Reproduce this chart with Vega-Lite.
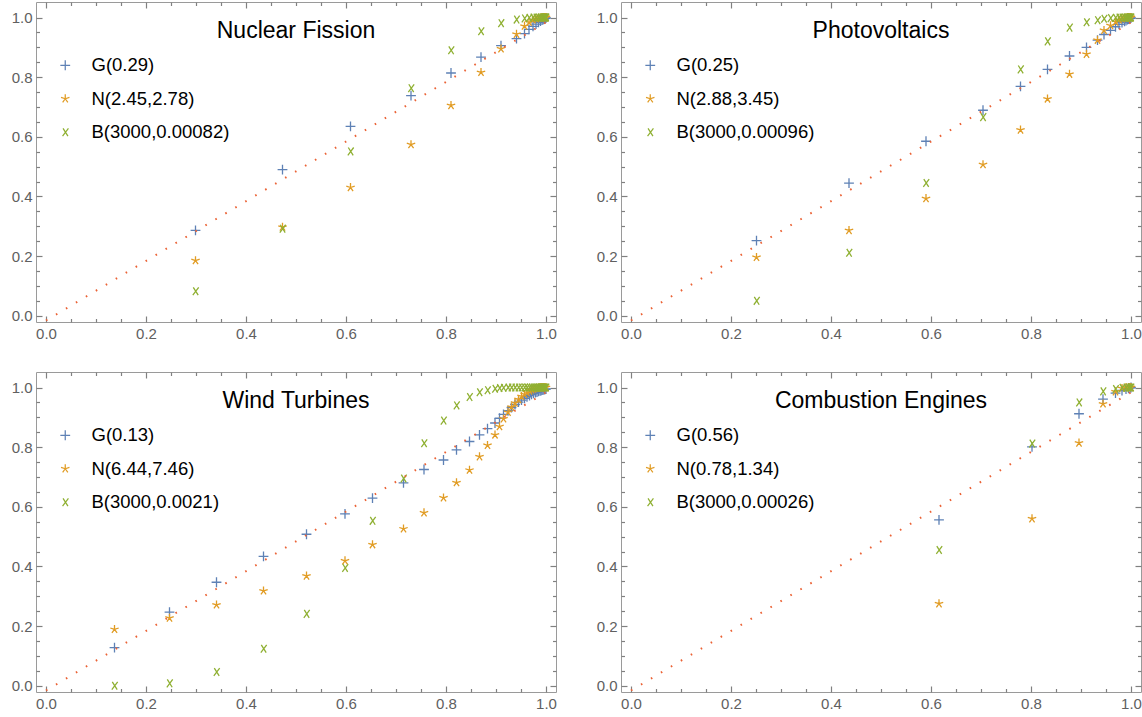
{
"$schema":"https://vega.github.io/schema/vega-lite/v6.json",
"background":"white",
"padding":{"left":10,"top":0,"right":0,"bottom":0},
"config":{
 "view":{"stroke":"#9a9a9a","strokeWidth":1},
 "font":"Liberation Sans",
 "axis":{"grid":false,"domain":false,"labelFont":"Liberation Sans","labelFontSize":15,"labelColor":"#606060","tickColor":"#808080","tickWidth":1.2,"labelFlush":false,"title":null},
 "legend":{"labelFont":"Liberation Sans","labelFontSize":18.5,"labelColor":"#000000","symbolSize":96,"symbolStrokeWidth":1.25,"labelOffset":17,"rowPadding":14.5,"padding":0},
 "title":{"font":"Liberation Sans","fontSize":23,"fontWeight":"normal","color":"#000000","anchor":"middle","frame":"group","offset":-42,"baseline":"alphabetic"}
},
"datasets":{
 "diag":[{"x":0,"y":-0.016},{"x":1,"y":0.984}],
 "nf":[
  {"d":"G(0.29)","x":0.299,"y":0.286},{"d":"G(0.29)","x":0.473,"y":0.490},{"d":"G(0.29)","x":0.609,"y":0.635},{"d":"G(0.29)","x":0.730,"y":0.738},{"d":"G(0.29)","x":0.810,"y":0.814},{"d":"G(0.29)","x":0.870,"y":0.867},{"d":"G(0.29)","x":0.910,"y":0.906},{"d":"G(0.29)","x":0.941,"y":0.929},{"d":"G(0.29)","x":0.957,"y":0.946},{"d":"G(0.29)","x":0.966,"y":0.960},{"d":"G(0.29)","x":0.974,"y":0.970},{"d":"G(0.29)","x":0.980,"y":0.978},{"d":"G(0.29)","x":0.985,"y":0.984},{"d":"G(0.29)","x":0.989,"y":0.988},{"d":"G(0.29)","x":0.992,"y":0.991},{"d":"G(0.29)","x":0.994,"y":0.993},{"d":"G(0.29)","x":0.996,"y":0.995},{"d":"G(0.29)","x":0.997,"y":0.996},{"d":"G(0.29)","x":0.998,"y":0.997},{"d":"G(0.29)","x":0.999,"y":0.998},{"d":"G(0.29)","x":1.0,"y":0.999},
  {"d":"N(2.45,2.78)","x":0.299,"y":0.185},{"d":"N(2.45,2.78)","x":0.473,"y":0.297},{"d":"N(2.45,2.78)","x":0.609,"y":0.430},{"d":"N(2.45,2.78)","x":0.730,"y":0.574},{"d":"N(2.45,2.78)","x":0.810,"y":0.705},{"d":"N(2.45,2.78)","x":0.870,"y":0.816},{"d":"N(2.45,2.78)","x":0.910,"y":0.895},{"d":"N(2.45,2.78)","x":0.941,"y":0.944},{"d":"N(2.45,2.78)","x":0.957,"y":0.971},{"d":"N(2.45,2.78)","x":0.966,"y":0.984},{"d":"N(2.45,2.78)","x":0.974,"y":0.992},{"d":"N(2.45,2.78)","x":0.980,"y":0.996},{"d":"N(2.45,2.78)","x":0.985,"y":0.998},{"d":"N(2.45,2.78)","x":0.989,"y":0.999},{"d":"N(2.45,2.78)","x":0.992,"y":1},{"d":"N(2.45,2.78)","x":0.994,"y":1},{"d":"N(2.45,2.78)","x":0.996,"y":1},{"d":"N(2.45,2.78)","x":0.997,"y":1},{"d":"N(2.45,2.78)","x":0.998,"y":1},{"d":"N(2.45,2.78)","x":0.999,"y":1},{"d":"N(2.45,2.78)","x":1.0,"y":1},
  {"d":"B(3000,0.00082)","x":0.299,"y":0.082},{"d":"B(3000,0.00082)","x":0.473,"y":0.292},{"d":"B(3000,0.00082)","x":0.609,"y":0.551},{"d":"B(3000,0.00082)","x":0.730,"y":0.763},{"d":"B(3000,0.00082)","x":0.810,"y":0.890},{"d":"B(3000,0.00082)","x":0.870,"y":0.954},{"d":"B(3000,0.00082)","x":0.910,"y":0.981},{"d":"B(3000,0.00082)","x":0.941,"y":0.993},{"d":"B(3000,0.00082)","x":0.957,"y":0.997},{"d":"B(3000,0.00082)","x":0.966,"y":0.999},{"d":"B(3000,0.00082)","x":0.974,"y":1},{"d":"B(3000,0.00082)","x":0.980,"y":1},{"d":"B(3000,0.00082)","x":0.985,"y":1},{"d":"B(3000,0.00082)","x":0.989,"y":1},{"d":"B(3000,0.00082)","x":0.992,"y":1},{"d":"B(3000,0.00082)","x":0.994,"y":1},{"d":"B(3000,0.00082)","x":0.996,"y":1},{"d":"B(3000,0.00082)","x":0.997,"y":1},{"d":"B(3000,0.00082)","x":0.998,"y":1},{"d":"B(3000,0.00082)","x":0.999,"y":1},{"d":"B(3000,0.00082)","x":1.0,"y":1}
 ],
 "pv":[
  {"d":"G(0.25)","x":0.251,"y":0.252},{"d":"G(0.25)","x":0.436,"y":0.445},{"d":"G(0.25)","x":0.590,"y":0.585},{"d":"G(0.25)","x":0.704,"y":0.689},{"d":"G(0.25)","x":0.779,"y":0.769},{"d":"G(0.25)","x":0.833,"y":0.826},{"d":"G(0.25)","x":0.877,"y":0.871},{"d":"G(0.25)","x":0.911,"y":0.900},{"d":"G(0.25)","x":0.933,"y":0.924},{"d":"G(0.25)","x":0.946,"y":0.943},{"d":"G(0.25)","x":0.959,"y":0.957},{"d":"G(0.25)","x":0.969,"y":0.969},{"d":"G(0.25)","x":0.976,"y":0.977},{"d":"G(0.25)","x":0.982,"y":0.983},{"d":"G(0.25)","x":0.987,"y":0.987},{"d":"G(0.25)","x":0.990,"y":0.990},{"d":"G(0.25)","x":0.993,"y":0.993},{"d":"G(0.25)","x":0.995,"y":0.995},{"d":"G(0.25)","x":0.997,"y":0.996},{"d":"G(0.25)","x":0.998,"y":0.997},{"d":"G(0.25)","x":0.999,"y":0.998},{"d":"G(0.25)","x":1.0,"y":0.999},
  {"d":"N(2.88,3.45)","x":0.251,"y":0.196},{"d":"N(2.88,3.45)","x":0.436,"y":0.286},{"d":"N(2.88,3.45)","x":0.590,"y":0.393},{"d":"N(2.88,3.45)","x":0.704,"y":0.507},{"d":"N(2.88,3.45)","x":0.779,"y":0.623},{"d":"N(2.88,3.45)","x":0.833,"y":0.727},{"d":"N(2.88,3.45)","x":0.877,"y":0.810},{"d":"N(2.88,3.45)","x":0.911,"y":0.877},{"d":"N(2.88,3.45)","x":0.933,"y":0.924},{"d":"N(2.88,3.45)","x":0.946,"y":0.957},{"d":"N(2.88,3.45)","x":0.959,"y":0.973},{"d":"N(2.88,3.45)","x":0.969,"y":0.985},{"d":"N(2.88,3.45)","x":0.976,"y":0.992},{"d":"N(2.88,3.45)","x":0.982,"y":0.996},{"d":"N(2.88,3.45)","x":0.987,"y":0.998},{"d":"N(2.88,3.45)","x":0.990,"y":0.999},{"d":"N(2.88,3.45)","x":0.993,"y":1},{"d":"N(2.88,3.45)","x":0.995,"y":1},{"d":"N(2.88,3.45)","x":0.997,"y":1},{"d":"N(2.88,3.45)","x":0.998,"y":1},{"d":"N(2.88,3.45)","x":0.999,"y":1},{"d":"N(2.88,3.45)","x":1.0,"y":1},
  {"d":"B(3000,0.00096)","x":0.251,"y":0.050},{"d":"B(3000,0.00096)","x":0.436,"y":0.211},{"d":"B(3000,0.00096)","x":0.590,"y":0.445},{"d":"B(3000,0.00096)","x":0.704,"y":0.666},{"d":"B(3000,0.00096)","x":0.779,"y":0.826},{"d":"B(3000,0.00096)","x":0.833,"y":0.920},{"d":"B(3000,0.00096)","x":0.877,"y":0.966},{"d":"B(3000,0.00096)","x":0.911,"y":0.984},{"d":"B(3000,0.00096)","x":0.933,"y":0.991},{"d":"B(3000,0.00096)","x":0.946,"y":0.996},{"d":"B(3000,0.00096)","x":0.959,"y":0.998},{"d":"B(3000,0.00096)","x":0.969,"y":0.999},{"d":"B(3000,0.00096)","x":0.976,"y":1},{"d":"B(3000,0.00096)","x":0.982,"y":1},{"d":"B(3000,0.00096)","x":0.987,"y":1},{"d":"B(3000,0.00096)","x":0.990,"y":1},{"d":"B(3000,0.00096)","x":0.993,"y":1},{"d":"B(3000,0.00096)","x":0.995,"y":1},{"d":"B(3000,0.00096)","x":0.997,"y":1},{"d":"B(3000,0.00096)","x":0.998,"y":1},{"d":"B(3000,0.00096)","x":0.999,"y":1},{"d":"B(3000,0.00096)","x":1.0,"y":1}
 ],
 "wt":[
  {"d":"G(0.13)","x":0.137,"y":0.128},{"d":"G(0.13)","x":0.247,"y":0.247},{"d":"G(0.13)","x":0.341,"y":0.347},{"d":"G(0.13)","x":0.435,"y":0.434},{"d":"G(0.13)","x":0.521,"y":0.508},{"d":"G(0.13)","x":0.598,"y":0.576},{"d":"G(0.13)","x":0.653,"y":0.629},{"d":"G(0.13)","x":0.715,"y":0.680},{"d":"G(0.13)","x":0.756,"y":0.725},{"d":"G(0.13)","x":0.795,"y":0.757},{"d":"G(0.13)","x":0.821,"y":0.791},{"d":"G(0.13)","x":0.847,"y":0.819},{"d":"G(0.13)","x":0.867,"y":0.841},{"d":"G(0.13)","x":0.883,"y":0.862},{"d":"G(0.13)","x":0.898,"y":0.881},{"d":"G(0.13)","x":0.907,"y":0.897},{"d":"G(0.13)","x":0.915,"y":0.910},{"d":"G(0.13)","x":0.924,"y":0.922},{"d":"G(0.13)","x":0.931,"y":0.933},{"d":"G(0.13)","x":0.938,"y":0.943},{"d":"G(0.13)","x":0.945,"y":0.951},{"d":"G(0.13)","x":0.951,"y":0.958},{"d":"G(0.13)","x":0.957,"y":0.964},{"d":"G(0.13)","x":0.962,"y":0.969},{"d":"G(0.13)","x":0.967,"y":0.973},{"d":"G(0.13)","x":0.971,"y":0.977},{"d":"G(0.13)","x":0.975,"y":0.980},{"d":"G(0.13)","x":0.979,"y":0.983},{"d":"G(0.13)","x":0.982,"y":0.985},{"d":"G(0.13)","x":0.985,"y":0.987},{"d":"G(0.13)","x":0.988,"y":0.989},{"d":"G(0.13)","x":0.990,"y":0.990},{"d":"G(0.13)","x":0.992,"y":0.991},{"d":"G(0.13)","x":0.994,"y":0.992},{"d":"G(0.13)","x":0.996,"y":0.993},{"d":"G(0.13)","x":0.998,"y":0.994},{"d":"G(0.13)","x":1.0,"y":0.995},
  {"d":"N(6.44,7.46)","x":0.137,"y":0.189},{"d":"N(6.44,7.46)","x":0.247,"y":0.227},{"d":"N(6.44,7.46)","x":0.341,"y":0.271},{"d":"N(6.44,7.46)","x":0.435,"y":0.318},{"d":"N(6.44,7.46)","x":0.521,"y":0.368},{"d":"N(6.44,7.46)","x":0.598,"y":0.419},{"d":"N(6.44,7.46)","x":0.653,"y":0.473},{"d":"N(6.44,7.46)","x":0.715,"y":0.526},{"d":"N(6.44,7.46)","x":0.756,"y":0.580},{"d":"N(6.44,7.46)","x":0.795,"y":0.630},{"d":"N(6.44,7.46)","x":0.821,"y":0.681},{"d":"N(6.44,7.46)","x":0.847,"y":0.723},{"d":"N(6.44,7.46)","x":0.867,"y":0.768},{"d":"N(6.44,7.46)","x":0.883,"y":0.806},{"d":"N(6.44,7.46)","x":0.898,"y":0.841},{"d":"N(6.44,7.46)","x":0.907,"y":0.869},{"d":"N(6.44,7.46)","x":0.915,"y":0.895},{"d":"N(6.44,7.46)","x":0.924,"y":0.917},{"d":"N(6.44,7.46)","x":0.931,"y":0.934},{"d":"N(6.44,7.46)","x":0.938,"y":0.948},{"d":"N(6.44,7.46)","x":0.945,"y":0.960},{"d":"N(6.44,7.46)","x":0.951,"y":0.970},{"d":"N(6.44,7.46)","x":0.957,"y":0.977},{"d":"N(6.44,7.46)","x":0.962,"y":0.983},{"d":"N(6.44,7.46)","x":0.967,"y":0.988},{"d":"N(6.44,7.46)","x":0.971,"y":0.992},{"d":"N(6.44,7.46)","x":0.975,"y":0.995},{"d":"N(6.44,7.46)","x":0.979,"y":0.997},{"d":"N(6.44,7.46)","x":0.982,"y":0.998},{"d":"N(6.44,7.46)","x":0.985,"y":0.999},{"d":"N(6.44,7.46)","x":0.988,"y":1},{"d":"N(6.44,7.46)","x":0.990,"y":1},{"d":"N(6.44,7.46)","x":0.992,"y":1},{"d":"N(6.44,7.46)","x":0.994,"y":1},{"d":"N(6.44,7.46)","x":0.996,"y":1},{"d":"N(6.44,7.46)","x":0.998,"y":1},{"d":"N(6.44,7.46)","x":1.0,"y":1},
  {"d":"B(3000,0.0021)","x":0.137,"y":0.0},{"d":"B(3000,0.0021)","x":0.247,"y":0.008},{"d":"B(3000,0.0021)","x":0.341,"y":0.046},{"d":"B(3000,0.0021)","x":0.435,"y":0.124},{"d":"B(3000,0.0021)","x":0.521,"y":0.241},{"d":"B(3000,0.0021)","x":0.598,"y":0.395},{"d":"B(3000,0.0021)","x":0.653,"y":0.553},{"d":"B(3000,0.0021)","x":0.715,"y":0.695},{"d":"B(3000,0.0021)","x":0.756,"y":0.813},{"d":"B(3000,0.0021)","x":0.795,"y":0.889},{"d":"B(3000,0.0021)","x":0.821,"y":0.940},{"d":"B(3000,0.0021)","x":0.847,"y":0.968},{"d":"B(3000,0.0021)","x":0.867,"y":0.984},{"d":"B(3000,0.0021)","x":0.883,"y":0.991},{"d":"B(3000,0.0021)","x":0.898,"y":0.996},{"d":"B(3000,0.0021)","x":0.907,"y":0.998},{"d":"B(3000,0.0021)","x":0.915,"y":0.999},{"d":"B(3000,0.0021)","x":0.924,"y":1},{"d":"B(3000,0.0021)","x":0.931,"y":1},{"d":"B(3000,0.0021)","x":0.938,"y":1},{"d":"B(3000,0.0021)","x":0.945,"y":1},{"d":"B(3000,0.0021)","x":0.951,"y":1},{"d":"B(3000,0.0021)","x":0.957,"y":1},{"d":"B(3000,0.0021)","x":0.962,"y":1},{"d":"B(3000,0.0021)","x":0.967,"y":1},{"d":"B(3000,0.0021)","x":0.971,"y":1},{"d":"B(3000,0.0021)","x":0.975,"y":1},{"d":"B(3000,0.0021)","x":0.979,"y":1},{"d":"B(3000,0.0021)","x":0.982,"y":1},{"d":"B(3000,0.0021)","x":0.985,"y":1},{"d":"B(3000,0.0021)","x":0.988,"y":1},{"d":"B(3000,0.0021)","x":0.990,"y":1},{"d":"B(3000,0.0021)","x":0.992,"y":1},{"d":"B(3000,0.0021)","x":0.994,"y":1},{"d":"B(3000,0.0021)","x":0.996,"y":1},{"d":"B(3000,0.0021)","x":0.998,"y":1},{"d":"B(3000,0.0021)","x":1.0,"y":1}
 ],
 "ce":[
  {"d":"G(0.56)","x":0.616,"y":0.556},{"d":"G(0.56)","x":0.802,"y":0.801},{"d":"G(0.56)","x":0.896,"y":0.912},{"d":"G(0.56)","x":0.944,"y":0.961},{"d":"G(0.56)","x":0.969,"y":0.981},{"d":"G(0.56)","x":0.982,"y":0.990},{"d":"G(0.56)","x":0.990,"y":0.995},{"d":"G(0.56)","x":0.995,"y":0.997},{"d":"G(0.56)","x":0.998,"y":0.999},{"d":"G(0.56)","x":1.0,"y":1.0},
  {"d":"N(0.78,1.34)","x":0.616,"y":0.275},{"d":"N(0.78,1.34)","x":0.802,"y":0.560},{"d":"N(0.78,1.34)","x":0.896,"y":0.814},{"d":"N(0.78,1.34)","x":0.944,"y":0.945},{"d":"N(0.78,1.34)","x":0.969,"y":0.986},{"d":"N(0.78,1.34)","x":0.982,"y":0.997},{"d":"N(0.78,1.34)","x":0.990,"y":1},{"d":"N(0.78,1.34)","x":0.995,"y":1},{"d":"N(0.78,1.34)","x":0.998,"y":1},{"d":"N(0.78,1.34)","x":1.0,"y":1},
  {"d":"B(3000,0.00026)","x":0.616,"y":0.455},{"d":"B(3000,0.00026)","x":0.802,"y":0.812},{"d":"B(3000,0.00026)","x":0.896,"y":0.950},{"d":"B(3000,0.00026)","x":0.944,"y":0.987},{"d":"B(3000,0.00026)","x":0.969,"y":0.995},{"d":"B(3000,0.00026)","x":0.982,"y":0.999},{"d":"B(3000,0.00026)","x":0.990,"y":1},{"d":"B(3000,0.00026)","x":0.995,"y":1},{"d":"B(3000,0.00026)","x":0.998,"y":1},{"d":"B(3000,0.00026)","x":1.0,"y":1}
 ]
},
"columns":2,
"spacing":{"row":50,"column":65},
"bounds":"flush",
"resolve":{"scale":{"color":"independent","shape":"independent"}},
"concat":[
 {"width":520,"height":320,"title":"Nuclear Fission",
  "layer":[
   {"data":{"name":"nf"},"mark":{"type":"point","filled":false,"strokeWidth":1.3,"size":96,"opacity":1},
    "encoding":{
     "x":{"field":"x","type":"quantitative","scale":{"domain":[-0.02,1.02],"nice":false,"zero":false},"axis":{"orient":"top","labels":false,"tickSize":-6,"values":[0,0.2,0.4,0.6,0.8,1]}},
     "y":{"field":"y","type":"quantitative","scale":{"domain":[-0.021,1.052],"nice":false,"zero":false},"axis":{"orient":"right","labels":false,"tickSize":-6,"values":[0,0.2,0.4,0.6,0.8,1]}},
     "color":{"field":"d","type":"nominal","scale":{"domain":["G(0.29)","N(2.45,2.78)","B(3000,0.00082)"],"range":["#5e81b5","#e19c24","#8fb032"]},"legend":{"title":null,"orient":"none","legendX":20,"legendY":54}},
     "shape":{"field":"d","type":"nominal","scale":{"domain":["G(0.29)","N(2.45,2.78)","B(3000,0.00082)"],"range":["M-1,0L1,0M0,-1L0,1","M0,0L0,-0.9M0,0L0.86,-0.28M0,0L0.53,0.73M0,0L-0.53,0.73M0,0L-0.86,-0.28","M-0.45,-0.8L0.55,0.8M0.65,-0.8L-0.55,0.8"]},"legend":{"title":null,"orient":"none","legendX":20,"legendY":54}}
    }},
   {"data":{"name":"diag"},"mark":{"type":"line","color":"#eb6235","strokeDash":[1.6,10],"strokeWidth":2},
    "encoding":{
     "x":{"field":"x","type":"quantitative","scale":{"domain":[-0.02,1.02],"nice":false,"zero":false},"axis":{"orient":"bottom","ticks":false,"labelPadding":4,"format":".1f","values":[0,0.2,0.4,0.6,0.8,1]}},
     "y":{"field":"y","type":"quantitative","scale":{"domain":[-0.021,1.052],"nice":false,"zero":false},"axis":{"orient":"left","ticks":false,"labelPadding":4,"format":".1f","values":[0,0.2,0.4,0.6,0.8,1]}}
    }},
   {"data":{"name":"diag"},"mark":{"type":"line","opacity":0},
    "encoding":{
     "x":{"field":"x","type":"quantitative","scale":{"domain":[-0.02,1.02],"nice":false,"zero":false},"axis":{"orient":"bottom","labels":false,"tickSize":-6,"values":[0,0.2,0.4,0.6,0.8,1]}},
     "y":{"field":"y","type":"quantitative","scale":{"domain":[-0.021,1.052],"nice":false,"zero":false},"axis":{"orient":"left","labels":false,"tickSize":-6,"values":[0,0.2,0.4,0.6,0.8,1]}}
    }},
   {"data":{"name":"diag"},"mark":{"type":"line","opacity":0},
    "encoding":{
     "x":{"field":"x","type":"quantitative","scale":{"domain":[-0.02,1.02],"nice":false,"zero":false},"axis":{"orient":"bottom","labels":false,"tickSize":-3.5,"values":[0.05,0.1,0.15,0.25,0.3,0.35,0.45,0.5,0.55,0.65,0.7,0.75,0.85,0.9,0.95]}},
     "y":{"field":"y","type":"quantitative","scale":{"domain":[-0.021,1.052],"nice":false,"zero":false},"axis":{"orient":"left","labels":false,"tickSize":-3.5,"values":[0.05,0.1,0.15,0.25,0.3,0.35,0.45,0.5,0.55,0.65,0.7,0.75,0.85,0.9,0.95]}}
    }},
   {"data":{"name":"diag"},"mark":{"type":"line","opacity":0},
    "encoding":{
     "x":{"field":"x","type":"quantitative","scale":{"domain":[-0.02,1.02],"nice":false,"zero":false},"axis":{"orient":"top","labels":false,"tickSize":-3.5,"values":[0.05,0.1,0.15,0.25,0.3,0.35,0.45,0.5,0.55,0.65,0.7,0.75,0.85,0.9,0.95]}},
     "y":{"field":"y","type":"quantitative","scale":{"domain":[-0.021,1.052],"nice":false,"zero":false},"axis":{"orient":"right","labels":false,"tickSize":-3.5,"values":[0.05,0.1,0.15,0.25,0.3,0.35,0.45,0.5,0.55,0.65,0.7,0.75,0.85,0.9,0.95]}}
    }}
  ],
  "resolve":{"axis":{"x":"independent","y":"independent"}}},
 {"width":520,"height":320,"title":"Photovoltaics",
  "layer":[
   {"data":{"name":"pv"},"mark":{"type":"point","filled":false,"strokeWidth":1.3,"size":96,"opacity":1},
    "encoding":{
     "x":{"field":"x","type":"quantitative","scale":{"domain":[-0.02,1.02],"nice":false,"zero":false},"axis":{"orient":"top","labels":false,"tickSize":-6,"values":[0,0.2,0.4,0.6,0.8,1]}},
     "y":{"field":"y","type":"quantitative","scale":{"domain":[-0.021,1.052],"nice":false,"zero":false},"axis":{"orient":"right","labels":false,"tickSize":-6,"values":[0,0.2,0.4,0.6,0.8,1]}},
     "color":{"field":"d","type":"nominal","scale":{"domain":["G(0.25)","N(2.88,3.45)","B(3000,0.00096)"],"range":["#5e81b5","#e19c24","#8fb032"]},"legend":{"title":null,"orient":"none","legendX":20,"legendY":54}},
     "shape":{"field":"d","type":"nominal","scale":{"domain":["G(0.25)","N(2.88,3.45)","B(3000,0.00096)"],"range":["M-1,0L1,0M0,-1L0,1","M0,0L0,-0.9M0,0L0.86,-0.28M0,0L0.53,0.73M0,0L-0.53,0.73M0,0L-0.86,-0.28","M-0.45,-0.8L0.55,0.8M0.65,-0.8L-0.55,0.8"]},"legend":{"title":null,"orient":"none","legendX":20,"legendY":54}}
    }},
   {"data":{"name":"diag"},"mark":{"type":"line","color":"#eb6235","strokeDash":[1.6,10],"strokeWidth":2},
    "encoding":{
     "x":{"field":"x","type":"quantitative","scale":{"domain":[-0.02,1.02],"nice":false,"zero":false},"axis":{"orient":"bottom","ticks":false,"labelPadding":4,"format":".1f","values":[0,0.2,0.4,0.6,0.8,1]}},
     "y":{"field":"y","type":"quantitative","scale":{"domain":[-0.021,1.052],"nice":false,"zero":false},"axis":{"orient":"left","ticks":false,"labelPadding":4,"format":".1f","values":[0,0.2,0.4,0.6,0.8,1]}}
    }},
   {"data":{"name":"diag"},"mark":{"type":"line","opacity":0},
    "encoding":{
     "x":{"field":"x","type":"quantitative","scale":{"domain":[-0.02,1.02],"nice":false,"zero":false},"axis":{"orient":"bottom","labels":false,"tickSize":-6,"values":[0,0.2,0.4,0.6,0.8,1]}},
     "y":{"field":"y","type":"quantitative","scale":{"domain":[-0.021,1.052],"nice":false,"zero":false},"axis":{"orient":"left","labels":false,"tickSize":-6,"values":[0,0.2,0.4,0.6,0.8,1]}}
    }},
   {"data":{"name":"diag"},"mark":{"type":"line","opacity":0},
    "encoding":{
     "x":{"field":"x","type":"quantitative","scale":{"domain":[-0.02,1.02],"nice":false,"zero":false},"axis":{"orient":"bottom","labels":false,"tickSize":-3.5,"values":[0.05,0.1,0.15,0.25,0.3,0.35,0.45,0.5,0.55,0.65,0.7,0.75,0.85,0.9,0.95]}},
     "y":{"field":"y","type":"quantitative","scale":{"domain":[-0.021,1.052],"nice":false,"zero":false},"axis":{"orient":"left","labels":false,"tickSize":-3.5,"values":[0.05,0.1,0.15,0.25,0.3,0.35,0.45,0.5,0.55,0.65,0.7,0.75,0.85,0.9,0.95]}}
    }},
   {"data":{"name":"diag"},"mark":{"type":"line","opacity":0},
    "encoding":{
     "x":{"field":"x","type":"quantitative","scale":{"domain":[-0.02,1.02],"nice":false,"zero":false},"axis":{"orient":"top","labels":false,"tickSize":-3.5,"values":[0.05,0.1,0.15,0.25,0.3,0.35,0.45,0.5,0.55,0.65,0.7,0.75,0.85,0.9,0.95]}},
     "y":{"field":"y","type":"quantitative","scale":{"domain":[-0.021,1.052],"nice":false,"zero":false},"axis":{"orient":"right","labels":false,"tickSize":-3.5,"values":[0.05,0.1,0.15,0.25,0.3,0.35,0.45,0.5,0.55,0.65,0.7,0.75,0.85,0.9,0.95]}}
    }}
  ],
  "resolve":{"axis":{"x":"independent","y":"independent"}}},
 {"width":520,"height":320,"title":"Wind Turbines",
  "layer":[
   {"data":{"name":"wt"},"mark":{"type":"point","filled":false,"strokeWidth":1.3,"size":96,"opacity":1},
    "encoding":{
     "x":{"field":"x","type":"quantitative","scale":{"domain":[-0.02,1.02],"nice":false,"zero":false},"axis":{"orient":"top","labels":false,"tickSize":-6,"values":[0,0.2,0.4,0.6,0.8,1]}},
     "y":{"field":"y","type":"quantitative","scale":{"domain":[-0.021,1.052],"nice":false,"zero":false},"axis":{"orient":"right","labels":false,"tickSize":-6,"values":[0,0.2,0.4,0.6,0.8,1]}},
     "color":{"field":"d","type":"nominal","scale":{"domain":["G(0.13)","N(6.44,7.46)","B(3000,0.0021)"],"range":["#5e81b5","#e19c24","#8fb032"]},"legend":{"title":null,"orient":"none","legendX":20,"legendY":54}},
     "shape":{"field":"d","type":"nominal","scale":{"domain":["G(0.13)","N(6.44,7.46)","B(3000,0.0021)"],"range":["M-1,0L1,0M0,-1L0,1","M0,0L0,-0.9M0,0L0.86,-0.28M0,0L0.53,0.73M0,0L-0.53,0.73M0,0L-0.86,-0.28","M-0.45,-0.8L0.55,0.8M0.65,-0.8L-0.55,0.8"]},"legend":{"title":null,"orient":"none","legendX":20,"legendY":54}}
    }},
   {"data":{"name":"diag"},"mark":{"type":"line","color":"#eb6235","strokeDash":[1.6,10],"strokeWidth":2},
    "encoding":{
     "x":{"field":"x","type":"quantitative","scale":{"domain":[-0.02,1.02],"nice":false,"zero":false},"axis":{"orient":"bottom","ticks":false,"labelPadding":4,"format":".1f","values":[0,0.2,0.4,0.6,0.8,1]}},
     "y":{"field":"y","type":"quantitative","scale":{"domain":[-0.021,1.052],"nice":false,"zero":false},"axis":{"orient":"left","ticks":false,"labelPadding":4,"format":".1f","values":[0,0.2,0.4,0.6,0.8,1]}}
    }},
   {"data":{"name":"diag"},"mark":{"type":"line","opacity":0},
    "encoding":{
     "x":{"field":"x","type":"quantitative","scale":{"domain":[-0.02,1.02],"nice":false,"zero":false},"axis":{"orient":"bottom","labels":false,"tickSize":-6,"values":[0,0.2,0.4,0.6,0.8,1]}},
     "y":{"field":"y","type":"quantitative","scale":{"domain":[-0.021,1.052],"nice":false,"zero":false},"axis":{"orient":"left","labels":false,"tickSize":-6,"values":[0,0.2,0.4,0.6,0.8,1]}}
    }},
   {"data":{"name":"diag"},"mark":{"type":"line","opacity":0},
    "encoding":{
     "x":{"field":"x","type":"quantitative","scale":{"domain":[-0.02,1.02],"nice":false,"zero":false},"axis":{"orient":"bottom","labels":false,"tickSize":-3.5,"values":[0.05,0.1,0.15,0.25,0.3,0.35,0.45,0.5,0.55,0.65,0.7,0.75,0.85,0.9,0.95]}},
     "y":{"field":"y","type":"quantitative","scale":{"domain":[-0.021,1.052],"nice":false,"zero":false},"axis":{"orient":"left","labels":false,"tickSize":-3.5,"values":[0.05,0.1,0.15,0.25,0.3,0.35,0.45,0.5,0.55,0.65,0.7,0.75,0.85,0.9,0.95]}}
    }},
   {"data":{"name":"diag"},"mark":{"type":"line","opacity":0},
    "encoding":{
     "x":{"field":"x","type":"quantitative","scale":{"domain":[-0.02,1.02],"nice":false,"zero":false},"axis":{"orient":"top","labels":false,"tickSize":-3.5,"values":[0.05,0.1,0.15,0.25,0.3,0.35,0.45,0.5,0.55,0.65,0.7,0.75,0.85,0.9,0.95]}},
     "y":{"field":"y","type":"quantitative","scale":{"domain":[-0.021,1.052],"nice":false,"zero":false},"axis":{"orient":"right","labels":false,"tickSize":-3.5,"values":[0.05,0.1,0.15,0.25,0.3,0.35,0.45,0.5,0.55,0.65,0.7,0.75,0.85,0.9,0.95]}}
    }}
  ],
  "resolve":{"axis":{"x":"independent","y":"independent"}}},
 {"width":520,"height":320,"title":"Combustion Engines",
  "layer":[
   {"data":{"name":"ce"},"mark":{"type":"point","filled":false,"strokeWidth":1.3,"size":96,"opacity":1},
    "encoding":{
     "x":{"field":"x","type":"quantitative","scale":{"domain":[-0.02,1.02],"nice":false,"zero":false},"axis":{"orient":"top","labels":false,"tickSize":-6,"values":[0,0.2,0.4,0.6,0.8,1]}},
     "y":{"field":"y","type":"quantitative","scale":{"domain":[-0.021,1.052],"nice":false,"zero":false},"axis":{"orient":"right","labels":false,"tickSize":-6,"values":[0,0.2,0.4,0.6,0.8,1]}},
     "color":{"field":"d","type":"nominal","scale":{"domain":["G(0.56)","N(0.78,1.34)","B(3000,0.00026)"],"range":["#5e81b5","#e19c24","#8fb032"]},"legend":{"title":null,"orient":"none","legendX":20,"legendY":54}},
     "shape":{"field":"d","type":"nominal","scale":{"domain":["G(0.56)","N(0.78,1.34)","B(3000,0.00026)"],"range":["M-1,0L1,0M0,-1L0,1","M0,0L0,-0.9M0,0L0.86,-0.28M0,0L0.53,0.73M0,0L-0.53,0.73M0,0L-0.86,-0.28","M-0.45,-0.8L0.55,0.8M0.65,-0.8L-0.55,0.8"]},"legend":{"title":null,"orient":"none","legendX":20,"legendY":54}}
    }},
   {"data":{"name":"diag"},"mark":{"type":"line","color":"#eb6235","strokeDash":[1.6,10],"strokeWidth":2},
    "encoding":{
     "x":{"field":"x","type":"quantitative","scale":{"domain":[-0.02,1.02],"nice":false,"zero":false},"axis":{"orient":"bottom","ticks":false,"labelPadding":4,"format":".1f","values":[0,0.2,0.4,0.6,0.8,1]}},
     "y":{"field":"y","type":"quantitative","scale":{"domain":[-0.021,1.052],"nice":false,"zero":false},"axis":{"orient":"left","ticks":false,"labelPadding":4,"format":".1f","values":[0,0.2,0.4,0.6,0.8,1]}}
    }},
   {"data":{"name":"diag"},"mark":{"type":"line","opacity":0},
    "encoding":{
     "x":{"field":"x","type":"quantitative","scale":{"domain":[-0.02,1.02],"nice":false,"zero":false},"axis":{"orient":"bottom","labels":false,"tickSize":-6,"values":[0,0.2,0.4,0.6,0.8,1]}},
     "y":{"field":"y","type":"quantitative","scale":{"domain":[-0.021,1.052],"nice":false,"zero":false},"axis":{"orient":"left","labels":false,"tickSize":-6,"values":[0,0.2,0.4,0.6,0.8,1]}}
    }},
   {"data":{"name":"diag"},"mark":{"type":"line","opacity":0},
    "encoding":{
     "x":{"field":"x","type":"quantitative","scale":{"domain":[-0.02,1.02],"nice":false,"zero":false},"axis":{"orient":"bottom","labels":false,"tickSize":-3.5,"values":[0.05,0.1,0.15,0.25,0.3,0.35,0.45,0.5,0.55,0.65,0.7,0.75,0.85,0.9,0.95]}},
     "y":{"field":"y","type":"quantitative","scale":{"domain":[-0.021,1.052],"nice":false,"zero":false},"axis":{"orient":"left","labels":false,"tickSize":-3.5,"values":[0.05,0.1,0.15,0.25,0.3,0.35,0.45,0.5,0.55,0.65,0.7,0.75,0.85,0.9,0.95]}}
    }},
   {"data":{"name":"diag"},"mark":{"type":"line","opacity":0},
    "encoding":{
     "x":{"field":"x","type":"quantitative","scale":{"domain":[-0.02,1.02],"nice":false,"zero":false},"axis":{"orient":"top","labels":false,"tickSize":-3.5,"values":[0.05,0.1,0.15,0.25,0.3,0.35,0.45,0.5,0.55,0.65,0.7,0.75,0.85,0.9,0.95]}},
     "y":{"field":"y","type":"quantitative","scale":{"domain":[-0.021,1.052],"nice":false,"zero":false},"axis":{"orient":"right","labels":false,"tickSize":-3.5,"values":[0.05,0.1,0.15,0.25,0.3,0.35,0.45,0.5,0.55,0.65,0.7,0.75,0.85,0.9,0.95]}}
    }}
  ],
  "resolve":{"axis":{"x":"independent","y":"independent"}}}
]
}
